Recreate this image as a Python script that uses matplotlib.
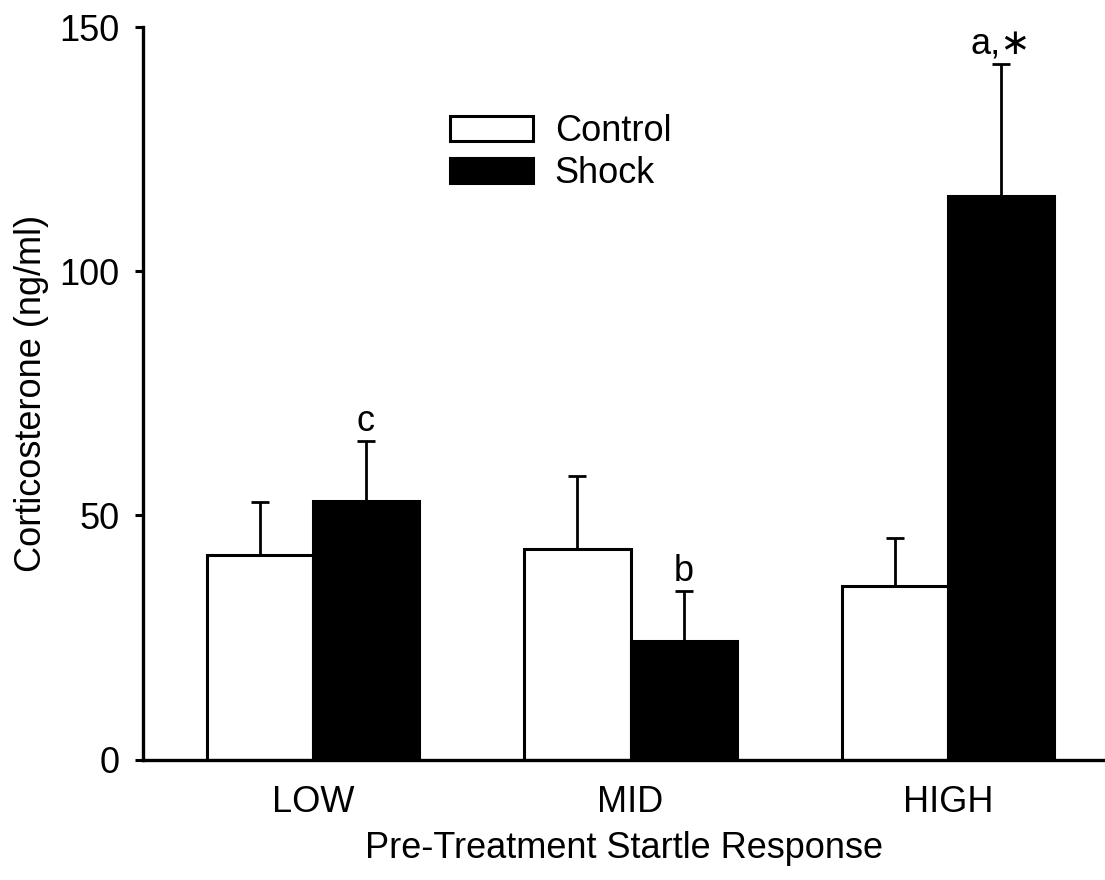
import matplotlib
matplotlib.use("Agg")
import matplotlib.pyplot as plt
import numpy as np

plt.rcParams["font.family"] = ["Liberation Sans", "DejaVu Sans"]

groups = ["LOW", "MID", "HIGH"]
control = [41.8, 43.1, 35.5]
control_err = [11.0, 14.9, 9.9]
shock = [53.0, 24.3, 115.5]
shock_err = [12.3, 10.2, 26.9]
shock_marks = ["c", "b", "a,\u2217"]

x = np.arange(len(groups))
w = 0.334
fs = 26

fig = plt.figure(figsize=(11.05, 8.8), dpi=100)
ax = fig.add_axes([0.1294, 0.1369, 0.8706, 0.8321])

err_kw = dict(elinewidth=2, capsize=6.5, capthick=2, ecolor="k")
ax.bar(x - w / 2, control, w, color="white", edgecolor="k", linewidth=2.2,
       yerr=[np.zeros(3), control_err], error_kw=err_kw, label="Control", zorder=2)
ax.bar(x + w / 2, shock, w, color="black", edgecolor="k", linewidth=2.2,
       yerr=[np.zeros(3), shock_err], error_kw=err_kw, label="Shock", zorder=2)

for xi, v, e, m in zip(x + w / 2, shock, shock_err, shock_marks):
    ax.annotate(m, (xi, v + e), xytext=(0, 7), textcoords="offset points",
                ha="center", va="baseline", fontsize=fs)

ax.set_xlim(-0.535, 2.494)
ax.set_ylim(0, 150)
ax.set_yticks([0, 50, 100, 150])
ax.set_xticks(x)
ax.set_xticklabels(groups)
ax.tick_params(axis="x", length=0, pad=18, labelsize=fs)
ax.tick_params(axis="y", length=6, width=2.2, direction="out", pad=11, labelsize=fs)
for s in ["top", "right"]:
    ax.spines[s].set_visible(False)
for s in ["left", "bottom"]:
    ax.spines[s].set_linewidth(2.4)

ax.set_xlabel("Pre-Treatment Startle Response", fontsize=fs, labelpad=8)
ax.set_ylabel("Corticosterone (ng/ml)", fontsize=fs, labelpad=7)

ax.legend(loc="upper left", bbox_to_anchor=(450 / 1105, 1 - 114 / 880),
          bbox_transform=fig.transFigure, frameon=False, fontsize=fs,
          handlelength=2.3, handleheight=0.67, handletextpad=0.6,
          labelspacing=0.2, borderpad=0, borderaxespad=0)

fig.savefig("out.png", dpi=100)
